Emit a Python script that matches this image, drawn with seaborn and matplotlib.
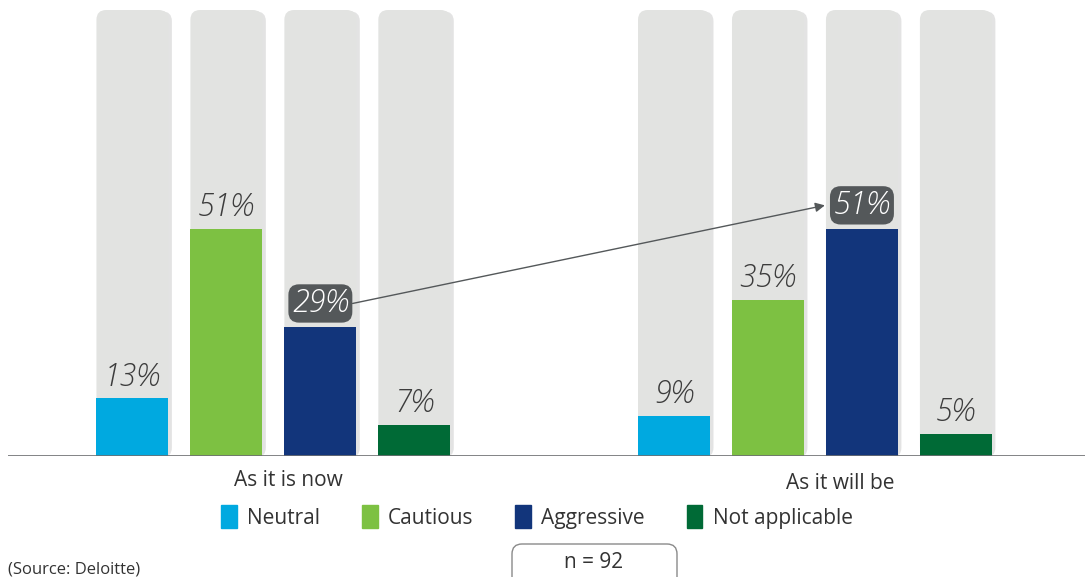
import matplotlib
matplotlib.use('Agg')
import matplotlib.pyplot as plt
import matplotlib.patches as mpatches
import matplotlib.patheffects as pe
import seaborn as sns
import pandas as pd

# chart data
groups = ['As it is now', 'As it will be']
stances = ['Neutral', 'Cautious', 'Aggressive', 'Not applicable']
now_values = [13, 51, 29, 7]
future_values = [9, 35, 51, 5]
colors = ['#00a9e0', '#7dc142', '#12357b', '#006a36']
highlight = 'Aggressive'

df = pd.DataFrame({
    'group': [g for g in groups for s in stances],
    'stance': stances * 2,
    'value': now_values + future_values,
})
df['full'] = 100

sns.set_theme(style='white')
plt.rcParams['font.family'] = ['Open Sans', 'DejaVu Sans']

W, H = 1085, 577
fig = plt.figure(figsize=(W / 100, H / 100), dpi=100)
ax = fig.add_axes([8 / W, 121 / H, 1077 / W, 446 / H])

# grey background columns (100%)
sns.barplot(data=df, x='group', y='full', hue='stance', hue_order=stances,
            palette={s: '#e2e3e1' for s in stances}, width=0.694, gap=0.234,
            saturation=1, linewidth=0, errorbar=None, legend=False, ax=ax)
n_bg = len(ax.patches)
# actual values
sns.barplot(data=df, x='group', y='value', hue='stance', hue_order=stances,
            palette=colors, width=0.694, gap=0.234, saturation=1, linewidth=0,
            errorbar=None, legend=False, ax=ax)

xlim = (-0.490, 1.4986)
ylim = (0, 100)
ax.set_xlim(*xlim)
ax.set_ylim(*ylim)
aspect = ((ylim[1] - ylim[0]) / 446) / ((xlim[1] - xlim[0]) / 1077)

# rounded background bars with a soft shadow
for r in list(ax.patches[:n_bg]):
    x, y, w, h = r.get_x(), r.get_y(), r.get_width(), r.get_height()
    r.remove()
    p = mpatches.FancyBboxPatch((x, y), w, h, boxstyle='round,pad=0,rounding_size=0.018',
                                mutation_aspect=aspect, fc='#e2e3e1', ec='none', zorder=1)
    p.set_path_effects([pe.SimplePatchShadow(offset=(2.5, -1), shadow_rgbFace='#b0b0b0', alpha=0.35),
                        pe.Normal()])
    ax.add_patch(p)

# value labels
val_containers = ax.containers[-4:]
anchors = {}
for stance, cont in zip(stances, val_containers):
    for bar, g in zip(cont, groups):
        v = df.loc[(df.group == g) & (df.stance == stance), 'value'].iloc[0]
        cx = bar.get_x() + bar.get_width() / 2
        bar.set_zorder(2)
        if stance == highlight:
            ax.text(cx, v + 5.2, f'{v}%', ha='center', va='center', fontsize=22,
                    style='italic', weight='light', color='white', zorder=5,
                    bbox=dict(boxstyle='round,pad=0.12,rounding_size=0.35', fc='#54585a', ec='none'))
            anchors[g] = (bar.get_x(), bar.get_x() + bar.get_width(), v + 5.2)
        else:
            ax.text(cx, v + 2.8, f'{v}%', ha='center', va='baseline', fontsize=22,
                    style='italic', weight='light', color='#3c3c3c', zorder=5)

# arrow from now to future aggressive
a0, a1 = anchors[groups[0]], anchors[groups[1]]
ax.annotate('', xy=(a1[0] - 0.002, a1[2]), xytext=(a0[1] - 0.007, a0[2]),
            arrowprops=dict(arrowstyle='-|>', color='#54585a', lw=1, shrinkA=0, shrinkB=0,
                            mutation_scale=14), zorder=4)

# baseline and group labels
ax.axhline(0, color='#6d6e71', lw=1.2, zorder=3)
for s in ax.spines.values():
    s.set_visible(False)
ax.set_xticks([])
ax.set_yticks([])
ax.set_xlabel('')
ax.set_ylabel('')
ax.text(0.027, -5.4, groups[0], ha='center', va='center', fontsize=15, color='#333333')
ax.text(1.046, -6.1, groups[1], ha='center', va='center', fontsize=15, color='#333333')

# legend
handles = [mpatches.Patch(color=c, label=s) for s, c in zip(stances, colors)]
fig.legend(handles=handles, loc='center', bbox_to_anchor=(537 / W, 1 - 517 / H), ncol=4,
           frameon=False, fontsize=15, handlelength=0.75, handleheight=1.3,
           handletextpad=0.5, columnspacing=2.0, labelcolor='#333333')

fig.text(8 / W, 1 - 570 / H, '(Source: Deloitte)', fontsize=12, va='center', color='#333333')
box = mpatches.FancyBboxPatch((512 / W, (H - 590) / H), 165 / W, 46 / H,
                              boxstyle='round,pad=0,rounding_size=0.0092',
                              mutation_aspect=W / H, fc='white', ec='#8a8a8a', lw=1,
                              transform=fig.transFigure)
fig.patches.append(box)
fig.text(594 / W, 1 - 563 / H, 'n = 92', ha='center', va='center', fontsize=15, color='#333333')

fig.savefig('out.png', dpi=100)
